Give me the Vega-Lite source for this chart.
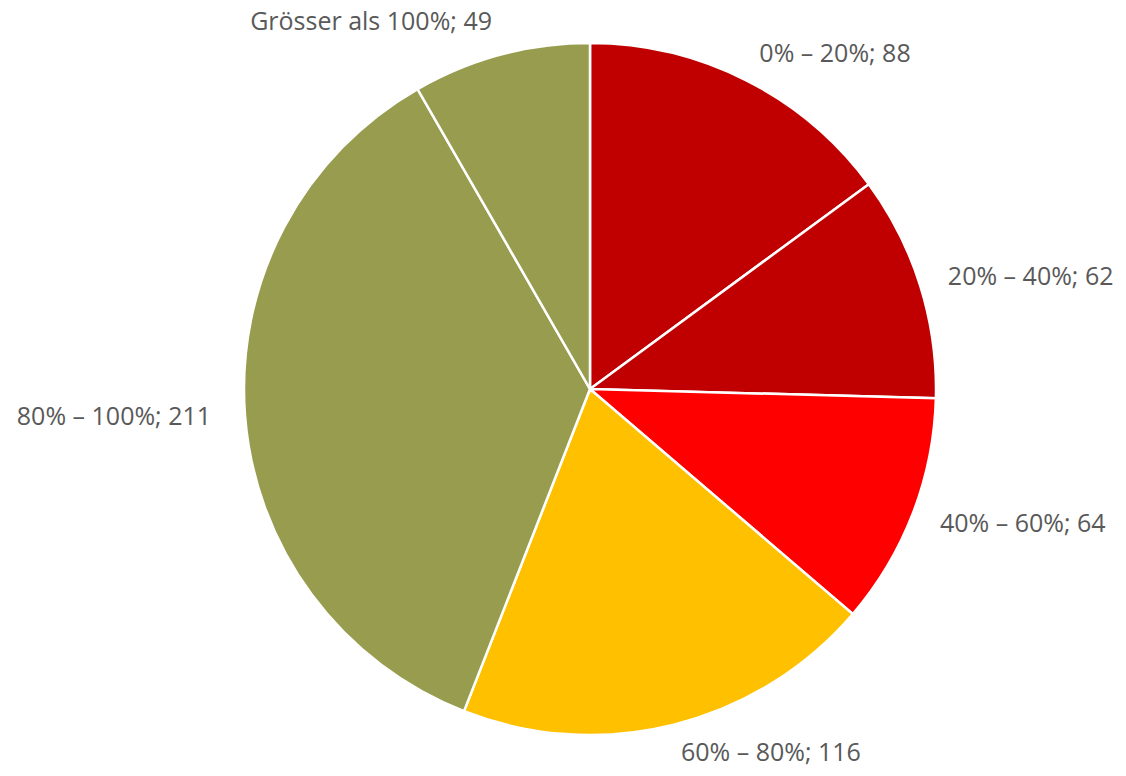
{
  "$schema": "https://vega.github.io/schema/vega-lite/v6.json",
  "width": 1072,
  "height": 778,
  "autosize": {"type": "none"},
  "padding": {"left": 54, "right": 0, "top": 0, "bottom": 0},
  "background": "white",
  "view": {"stroke": null},
  "data": {
    "values": [
      {"order": 1, "category": "0% – 20%", "label": "0% – 20%; 88", "value": 88},
      {"order": 2, "category": "20% – 40%", "label": "20% – 40%; 62", "value": 62},
      {"order": 3, "category": "40% – 60%", "label": "40% – 60%; 64", "value": 64},
      {"order": 4, "category": "60% – 80%", "label": "60% – 80%; 116", "value": 116},
      {"order": 5, "category": "80% – 100%", "label": "80% – 100%; 211", "value": 211},
      {"order": 6, "category": "Grösser als 100%", "label": "Grösser als 100%; 49", "value": 49}
    ]
  },
  "encoding": {
    "theta": {"field": "value", "type": "quantitative", "stack": true},
    "order": {"field": "order", "type": "quantitative"}
  },
  "layer": [
    {
      "mark": {"type": "arc", "outerRadius": 346, "stroke": "white", "strokeWidth": 2.5},
      "encoding": {
        "color": {
          "field": "category",
          "type": "nominal",
          "scale": {
            "domain": ["0% – 20%", "20% – 40%", "40% – 60%", "60% – 80%", "80% – 100%", "Grösser als 100%"],
            "range": ["#C00000", "#C00000", "#FF0000", "#FFC000", "#979C4E", "#979C4E"]
          },
          "legend": null
        }
      }
    },
    {
      "mark": {"type": "text", "radius": 375, "align": "left", "baseline": "middle", "font": "Open Sans", "fontSize": 25, "color": "#595959"},
      "encoding": {
        "text": {"condition": {"test": "datum.order <= 4", "field": "label"}, "value": ""}
      }
    },
    {
      "mark": {"type": "text", "radius": 380, "align": "right", "baseline": "middle", "font": "Open Sans", "fontSize": 25, "color": "#595959"},
      "encoding": {
        "text": {"condition": {"test": "datum.order > 4", "field": "label"}, "value": ""}
      }
    }
  ]
}
